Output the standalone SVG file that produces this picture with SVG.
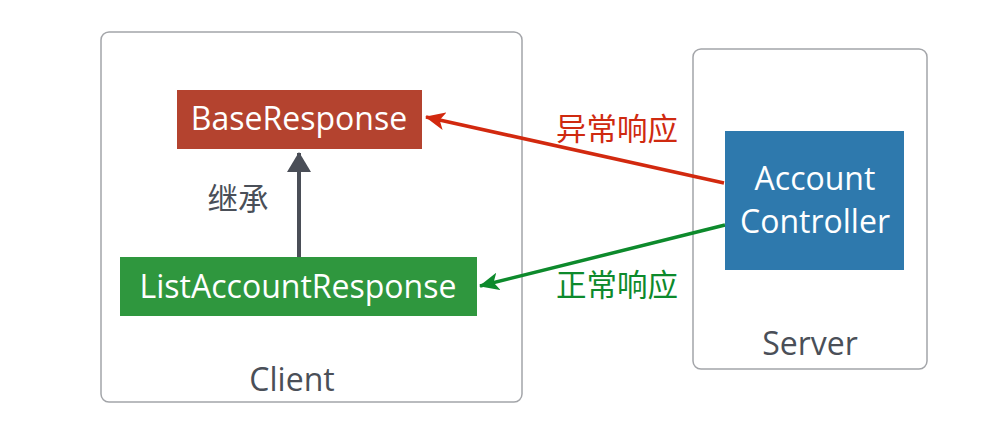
<svg xmlns="http://www.w3.org/2000/svg" width="1000" height="436" viewBox="0 0 1000 436">
<style>
.frame{fill:#fff;stroke:#a3a5a9;stroke-width:1.5}
.lbl{font-family:"Open Sans","Noto Sans","Noto Sans CJK SC",sans-serif;text-anchor:middle}
.w{fill:#fff;font-size:32px}
.g{fill:#4a4f58;font-size:32px}
.cn{font-family:"Noto Sans CJK SC",sans-serif;font-size:30.5px;text-anchor:middle}
</style>
<defs>
<marker id="mr" viewBox="0 0 20 18" refX="19" refY="9" markerWidth="20" markerHeight="18" markerUnits="userSpaceOnUse" orient="auto"><path d="M20,9 L0,0 L5,9 L0,18 Z" fill="#d2290f"/></marker>
<marker id="mg" viewBox="0 0 20 18" refX="19" refY="9" markerWidth="20" markerHeight="18" markerUnits="userSpaceOnUse" orient="auto"><path d="M20,9 L0,0 L5,9 L0,18 Z" fill="#0d8a2c"/></marker>
<marker id="mk" viewBox="0 0 20 24" refX="19" refY="12" markerWidth="20" markerHeight="24" markerUnits="userSpaceOnUse" orient="auto"><path d="M20,12 L0,0 L0,24 Z" fill="#4a4e57"/></marker>
</defs>
<rect width="1000" height="436" fill="#fff"/>
<g id="client">
<rect class="frame" x="101" y="32" width="421" height="370" rx="8"/>
<text class="lbl g" x="292" y="391">Client</text>
</g>
<g id="server">
<rect class="frame" x="693" y="49" width="234" height="320" rx="8"/>
<text class="lbl g" x="810" y="355">Server</text>
</g>
<g id="connectors">
<line x1="299" y1="263" x2="299" y2="153" stroke="#4a4e57" stroke-width="4" marker-end="url(#mk)"/>
<line x1="724" y1="183" x2="426" y2="117" stroke="#d2290f" stroke-width="3.5" marker-end="url(#mr)"/>
<line x1="725" y1="225" x2="480" y2="286" stroke="#0d8a2c" stroke-width="3.5" marker-end="url(#mg)"/>
<text class="cn" x="238" y="210" fill="#4a4f58">继承</text>
<text class="cn" x="617" y="140" fill="#cf2a10">异常响应</text>
<text class="cn" x="617" y="296" fill="#0d8a2c">正常响应</text>
</g>
<g id="baseresponse">
<rect x="177" y="90" width="245" height="59" fill="#b4432f"/>
<text class="lbl w" x="299" y="130">BaseResponse</text>
</g>
<g id="listaccountresponse">
<rect x="120" y="257" width="357" height="59" fill="#2f973e"/>
<text class="lbl w" x="298" y="298">ListAccountResponse</text>
</g>
<g id="accountcontroller">
<rect x="725" y="131" width="179" height="139" fill="#2e79ad"/>
<text class="lbl w" x="815" y="190">Account</text>
<text class="lbl w" x="815" y="233">Controller</text>
</g>
</svg>
